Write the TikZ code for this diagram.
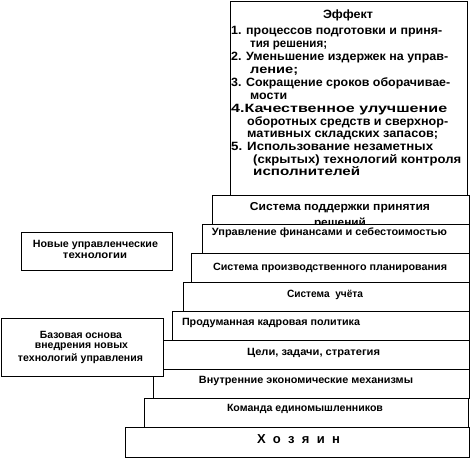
\documentclass[tikz,border=0pt]{standalone}
\usepackage{fontspec}
\usepackage{graphicx}
\setmainfont{Liberation Sans}
\newcommand\fitw[2]{\resizebox{#1}{\height}{#2}}
\begin{document}
\begin{tikzpicture}[x=1pt,y=-1pt,
  box/.style={draw, line width=0.9pt, fill=white, inner sep=0pt, anchor=north west},
  lbl/.style={font=\fontsize{10.5}{11}\selectfont\bfseries, inner sep=0pt},
  side/.style={font=\fontsize{10.5}{11.5}\selectfont\bfseries, inner sep=0pt},
  eff/.style={font=\fontsize{12}{13}\selectfont\bfseries, inner sep=0pt, anchor=west, text height=8.5pt, text depth=2.5pt}]
\useasboundingbox (0,0) rectangle (470,458);

% Effect box
\node[box, minimum width=237pt, minimum height=194pt] (effect) at (230,1) {};
\node[eff, anchor=center] (e0) at (348,15) {\fitw{50pt}{Эффект}};
\node[eff] (e1) at (231,31) {\fitw{211pt}{1. процессов подготовки и приня-}};
\node[eff] (e2) at (250,44) {\fitw{77pt}{тия решения;}};
\node[eff] (e3) at (231,57) {\fitw{217pt}{2. Уменьшение издержек на управ-}};
\node[eff] (e4) at (250,70) {\fitw{48pt}{ление;}};
\node[eff] (e5) at (231,83) {\fitw{219pt}{3. Сокращение сроков оборачивае-}};
\node[eff] (e6) at (250,96) {\fitw{37pt}{мости}};
\node[eff] (e7) at (231,109) {\fitw{216pt}{4.Качественное улучшение}};
\node[eff] (e8) at (247,122) {\fitw{201pt}{оборотных средств и сверхнор-}};
\node[eff] (e9) at (247,134) {\fitw{191pt}{мативных складских запасов;}};
\node[eff] (e10) at (231,147) {\fitw{202pt}{5. Использование незаметных}};
\node[eff] (e11) at (253,160) {\fitw{208pt}{(скрытых) технологий контроля}};
\node[eff] (e12) at (253,172) {\fitw{107pt}{исполнителей}};

% Decision support box (its second line is hidden by the next box)
\node[box, minimum width=257pt, minimum height=29pt] (dss) at (212,195) {};
\node[font=\fontsize{11.5}{12}\selectfont\bfseries, inner sep=0pt] (dssA) at (340,208) {\fitw{180pt}{Система поддержки принятия}};
\node[font=\fontsize{11.5}{12}\selectfont\bfseries, inner sep=0pt] (dssB) at (340,223) {\fitw{52pt}{решений}};

\node[box, minimum width=267pt, minimum height=29pt] (fin) at (202,224) {};
\node[lbl] (finT) at (329.5,233) {\fitw{235pt}{Управление финансами и себестоимостью}};

\node[box, minimum width=278pt, minimum height=29pt] (plan) at (191,253) {};
\node[lbl] (planT) at (330,268) {\fitw{234pt}{Система производственного планирования}};

\node[box, minimum width=286pt, minimum height=29pt] (acc) at (183,282) {};
\node[lbl] (accT) at (325,295) {\fitw{76pt}{Система \ учёта}};

\node[box, minimum width=297pt, minimum height=29pt] (hr) at (172,311) {};
\node[lbl] (hrT) at (271,323) {\fitw{178pt}{Продуманная кадровая политика}};

\node[box, minimum width=306pt, minimum height=29pt] (goals) at (163,340) {};
\node[lbl] (goalsT) at (313.5,353) {\fitw{133pt}{Цели, задачи, стратегия}};

\node[box, minimum width=316pt, minimum height=29pt] (mech) at (153,369) {};
\node[lbl] (mechT) at (306,381) {\fitw{214pt}{Внутренние экономические механизмы}};

\node[box, minimum width=324pt, minimum height=29pt] (team) at (144,398) {};
\node[lbl] (teamT) at (305,409) {\fitw{156pt}{Команда единомышленников}};

\node[box, minimum width=344pt, minimum height=30pt] (owner) at (125,427) {};
\node[font=\fontsize{13}{14}\selectfont\bfseries, inner sep=0pt] (ownerT) at (298.5,439) {\spaceskip=7.3pt Х о з я и н};

% Side boxes
\node[box, minimum width=151pt, minimum height=38pt] (newt) at (21,232) {};
\node[side] (newtA) at (95.5,245) {\fitw{125pt}{Новые управленческие}};
\node[side] (newtB) at (95,256) {\fitw{64pt}{технологии}};

\node[box, minimum width=162pt, minimum height=58pt] (base) at (1,318) {};
\node[side] (baseA) at (81,335) {\fitw{82pt}{Базовая основа}};
\node[side] (baseB) at (81.5,347) {\fitw{93pt}{внедрения новых}};
\node[side] (baseC) at (80.5,359) {\fitw{125pt}{технологий управления}};
\end{tikzpicture}
\end{document}
